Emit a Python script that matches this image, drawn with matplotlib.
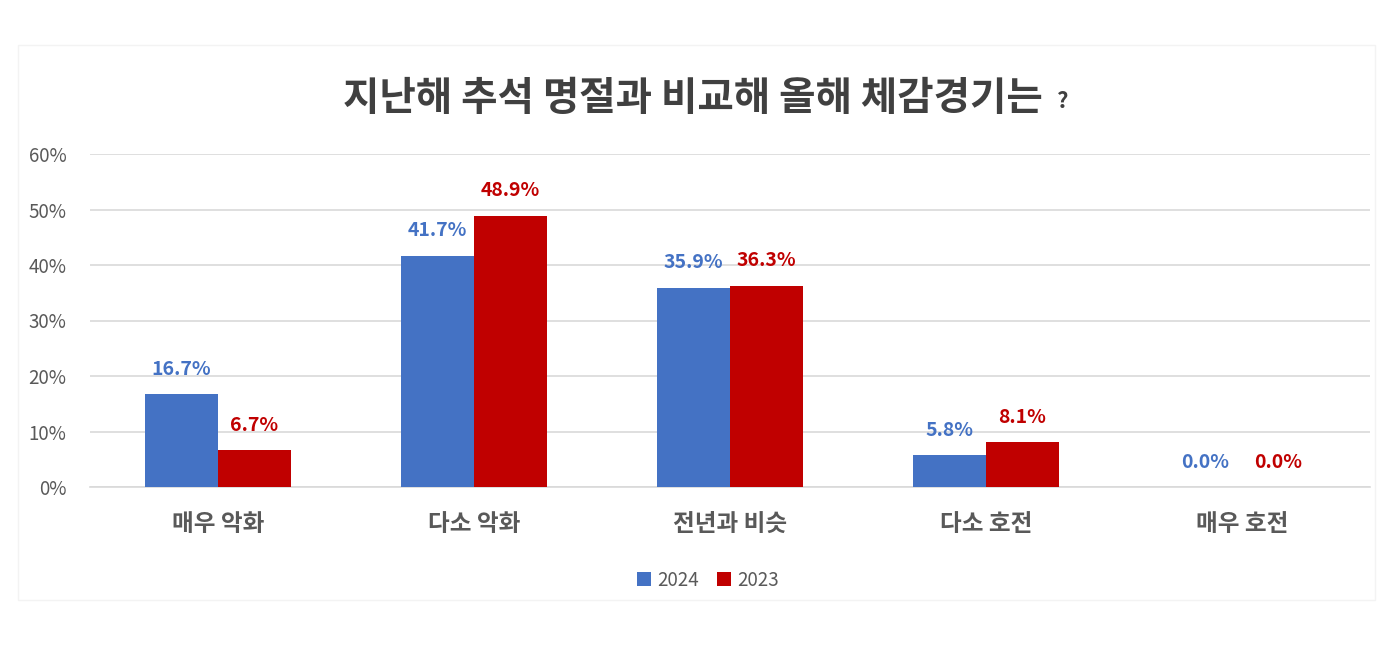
import matplotlib
matplotlib.use("Agg")
import matplotlib.pyplot as plt
import numpy as np
from matplotlib.patches import Rectangle

categories = ["매우 악화", "다소 악화", "전년과 비슷", "다소 호전", "매우 호전"]
series_names = ["2024", "2023"]
values_2024 = [16.7, 41.7, 35.9, 5.8, 0.0]
values_2023 = [6.7, 48.9, 36.3, 8.1, 0.0]
yticks = [0, 10, 20, 30, 40, 50, 60]
title = "지난해 추석 명절과 비교해 올해 체감경기는"

plt.rcParams['font.family'] = ['Noto Sans CJK KR', 'DejaVu Sans']

BLUE = "#4472C4"
RED = "#C00000"
GRAY = "#595959"

fig = plt.figure(figsize=(14, 6.46), dpi=100)
fig.patch.set_facecolor("white")
fig.patches.append(Rectangle((18/1400, 1-600/646), (1375-18)/1400, (600-45)/646,
                             transform=fig.transFigure, fill=False,
                             edgecolor="#F3F3F3", linewidth=1.0))

ax = fig.add_axes([90/1400, 1-487/646, 1280/1400, (487-154)/646])
x = np.arange(len(categories))
w = 0.285
b1 = ax.bar(x - w/2, values_2024, w, color=BLUE, label=series_names[0], zorder=3)
b2 = ax.bar(x + w/2, values_2023, w, color=RED, label=series_names[1], zorder=3)

for bars, vals, c in [(b1, values_2024, BLUE), (b2, values_2023, RED)]:
    for rect, v in zip(bars, vals):
        ax.annotate(f"{v:.1f}%", (rect.get_x() + rect.get_width()/2, v),
                    xytext=(0, 11), textcoords="offset points",
                    ha="center", va="bottom", color=c, fontsize=14,
                    fontweight="bold")

ax.set_xlim(-0.5, len(categories) - 0.5)
ax.set_ylim(0, 60)
ax.set_yticks(yticks)
ax.set_yticklabels([f"{t}%" for t in yticks], color=GRAY, fontsize=13.5)
ax.set_xticks(x)
ax.set_xticklabels(categories, color=GRAY, fontsize=17, fontweight="semibold")
ax.tick_params(axis="both", length=0)
ax.tick_params(axis="y", pad=17)
ax.tick_params(axis="x", pad=18)
ax.grid(axis="y", color="#D9D9D9", linewidth=1.2, zorder=0)
for s in ["top", "right", "left"]:
    ax.spines[s].set_visible(False)
ax.spines["bottom"].set_color("#D9D9D9")
ax.spines["bottom"].set_linewidth(1.2)

t_main = fig.text(343/1400, 1-98/646, title, ha="left", va="center",
                  fontsize=28.5, fontweight="bold", color="#404040")
fig.canvas.draw()
bb = t_main.get_window_extent()
fig.text((bb.x1 + 14)/1400, 1-102/646, "?", ha="left", va="center",
         fontsize=16, fontweight="bold", color="#404040")

leg = fig.legend(handles=[b1, b2], labels=series_names, loc="center",
                 bbox_to_anchor=(708/1400, 1-580/646), ncol=2, frameon=False,
                 fontsize=13.5, handlelength=0.75, handleheight=0.75,
                 handletextpad=0.3, columnspacing=1.0)
for t in leg.get_texts():
    t.set_color(GRAY)

fig.savefig("out.png", dpi=100)
